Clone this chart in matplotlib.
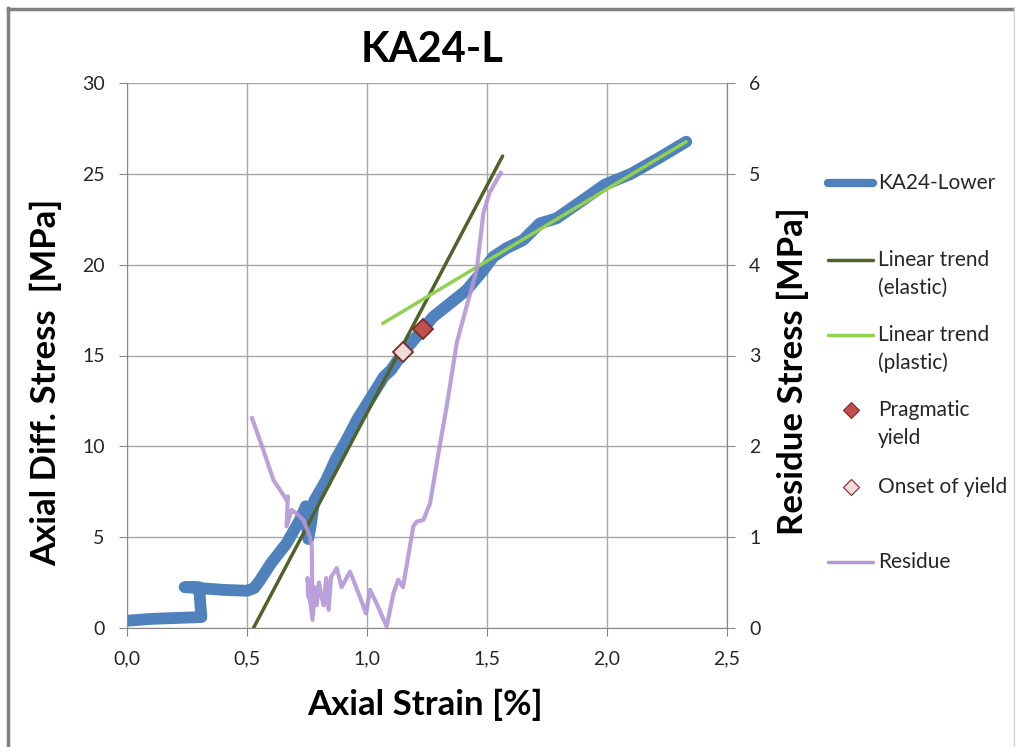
import matplotlib
matplotlib.use('Agg')
import matplotlib.pyplot as plt
from matplotlib.lines import Line2D

plt.rcParams['font.family'] = ['Lato', 'DejaVu Sans']

# KA24-Lower stress-strain curve
strain = [0.0, 0.10, 0.20, 0.31, 0.30, 0.24, 0.30, 0.40, 0.50, 0.53, 0.555, 0.60,
          0.665, 0.72, 0.745, 0.755, 0.765, 0.78, 0.83, 0.87, 0.915, 0.96, 1.01,
          1.05, 1.07, 1.10, 1.153, 1.232, 1.276, 1.346, 1.415, 1.485, 1.526, 1.58,
          1.65, 1.72, 1.79, 1.90, 1.99, 2.10, 2.22, 2.33]
stress = [0.4, 0.5, 0.55, 0.6, 2.25, 2.25, 2.2, 2.1, 2.05, 2.2, 2.64, 3.56,
          4.66, 5.94, 6.7, 4.9, 5.6, 7.0, 8.14, 9.3, 10.35, 11.5, 12.55,
          13.4, 13.83, 14.2, 15.2, 16.44, 17.13, 17.87, 18.6, 19.7, 20.43, 20.9,
          21.35, 22.27, 22.55, 23.56, 24.4, 25.0, 25.9, 26.77]

# trend lines
elastic_x = [0.527, 1.565]
elastic_y = [0.0, 25.98]
plastic_x = [1.066, 2.33]
plastic_y = [16.77, 26.77]

# yield points
pragmatic_x, pragmatic_y = [1.232], [16.44]
onset_x, onset_y = [1.152], [15.2]

# residue (right axis)
res_x = [0.521, 0.568, 0.61, 0.6375, 0.665, 0.67, 0.665, 0.686, 0.707, 0.735,
         0.7625, 0.77, 0.773, 0.752, 0.755, 0.765, 0.775, 0.783, 0.79, 0.80,
         0.81, 0.82, 0.83, 0.84, 0.85, 0.874, 0.894, 0.929, 0.943, 0.978,
         0.996, 1.0125, 1.04, 1.082, 1.11, 1.13, 1.15, 1.193, 1.207, 1.235,
         1.2625, 1.30, 1.332, 1.374, 1.415, 1.457, 1.485, 1.51, 1.557]
res_y = [2.31, 1.96, 1.63, 1.52, 1.41, 1.45, 1.12, 1.30, 1.26, 1.19,
         1.0, 0.9, 0.09, 0.55, 0.35, 0.30, 0.15, 0.45, 0.25, 0.50,
         0.35, 0.25, 0.55, 0.2, 0.56, 0.66, 0.45, 0.62, 0.53, 0.29,
         0.16, 0.42, 0.27, 0.015, 0.38, 0.53, 0.45, 1.12, 1.17, 1.19,
         1.37, 1.96, 2.44, 3.14, 3.54, 3.94, 4.57, 4.79, 5.01]

c_blue = '#4f81bd'
c_dark = '#4f6228'
c_light = '#92d050'
c_purple = '#b497d6'
c_axis = '#868686'
c_text = '#262626'

fig = plt.figure(figsize=(10.15, 7.47), dpi=100)
W, H = 1015, 747
ax = fig.add_axes([127 / W, 1 - 628 / H, 600 / W, 545 / H])

ax.plot(strain, stress, color=c_blue, lw=8.5, solid_capstyle='round',
        solid_joinstyle='round', zorder=2)
ax.plot(elastic_x, elastic_y, color=c_dark, lw=2.5, solid_capstyle='round', zorder=3)
ax.plot(plastic_x, plastic_y, color=c_light, lw=2.5, solid_capstyle='round', zorder=3)

ax.set_xlim(0, 2.5)
ax.set_ylim(0, 30)
ax.set_xticks([0, 0.5, 1.0, 1.5, 2.0, 2.5])
ax.set_xticklabels(['0,0', '0,5', '1,0', '1,5', '2,0', '2,5'])
ax.set_yticks(range(0, 31, 5))
ax.grid(True, color='#a6a6a6', lw=1)
ax.set_axisbelow(True)
for s in ['left', 'bottom', 'right']:
    ax.spines[s].set_color(c_axis)
ax.spines['top'].set_visible(False)
ax.tick_params(axis='both', labelsize=14, color=c_axis, length=6, labelcolor=c_text)
ax.tick_params(axis='y', pad=10)
ax.tick_params(axis='x', pad=10)
ax.set_xlabel('Axial Strain [%]', fontsize=25, fontweight='bold')
ax.set_ylabel('Axial Diff. Stress  [MPa]', fontsize=25, fontweight='bold')
ax.xaxis.set_label_coords(0.497, -0.112)
ax.yaxis.set_label_coords(-0.108, 0.451)

ax2 = ax.twinx()
ax2.plot(res_x, res_y, color=c_purple, lw=3, alpha=0.9, zorder=2)
ax2.plot(pragmatic_x, pragmatic_y, ls='none', marker='D', ms=10.5, mfc='#c0504d',
         mec='#7b2a28', mew=1.3, transform=ax.transData, zorder=5)
ax2.plot(onset_x, onset_y, ls='none', marker='D', ms=10.5, mfc='#f2dcdb',
         mec='#7b2a28', mew=1.3, transform=ax.transData, zorder=5)
ax2.set_ylim(0, 6)
ax2.set_yticks(range(0, 7))
for s in ['left', 'bottom', 'right', 'top']:
    ax2.spines[s].set_visible(False)
ax2.spines['right'].set_visible(True)
ax2.spines['right'].set_color(c_axis)
ax2.tick_params(axis='y', labelsize=14, color=c_axis, length=6, labelcolor=c_text, pad=10)
ax2.set_ylabel('Residue Stress [MPa]', fontsize=25, fontweight='bold')
ax2.yaxis.set_label_coords(1.083, 0.472)

fig.text(432 / W, 1 - 50 / H, 'KA24-L', fontsize=30, fontweight='bold',
         ha='center', va='center')


# legend, drawn by hand to keep Excel's layout
def fx(px):
    return px / W


def fy(py):
    return 1 - py / H


entries = [
    ('line', c_blue, 6, ['KA24-Lower'], 183),
    ('line', c_dark, 2.5, ['Linear trend', '(elastic)'], 260),
    ('line', c_light, 2.5, ['Linear trend', '(plastic)'], 335),
    ('mark', '#c0504d', 0, ['Pragmatic', 'yield'], 410),
    ('mark', '#f2dcdb', 0, ['Onset of yield'], 487),
    ('line', c_purple, 2.5, ['Residue'], 562),
]
for kind, col, lw, lines, py in entries:
    if kind == 'line':
        fig.add_artist(Line2D([fx(828), fx(873)], [fy(py), fy(py)], color=col, lw=lw,
                              solid_capstyle='round', transform=fig.transFigure))
    else:
        fig.add_artist(Line2D([fx(851)], [fy(py)], ls='none', marker='D', ms=8,
                              mfc=col, mec='#7b2a28', mew=0.8,
                              transform=fig.transFigure))
    for i, txt in enumerate(lines):
        fig.text(fx(878), fy(py + 28 * i), txt, fontsize=15, ha='left',
                 va='center', color=c_text)

# chart frame
fig.add_artist(Line2D([fx(8), fx(8)], [fy(8), 0], color='#808080', lw=2.5,
                      transform=fig.transFigure))
fig.add_artist(Line2D([fx(8), 1], [fy(8.5), fy(8.5)], color='#808080', lw=2.5,
                      transform=fig.transFigure))
fig.add_artist(Line2D([fx(1013.5), fx(1013.5)], [fy(8), 0], color='#d0d0d0', lw=1,
                      transform=fig.transFigure))

fig.savefig('out.png', dpi=100)
